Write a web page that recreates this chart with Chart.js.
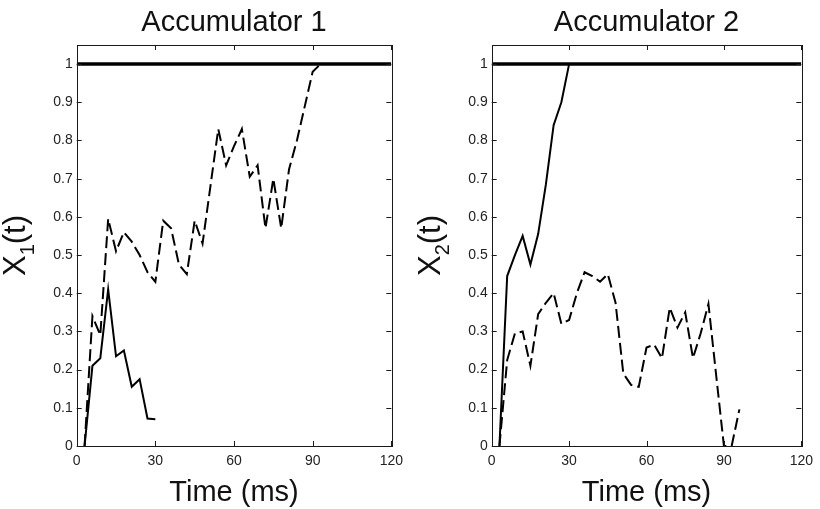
<!DOCTYPE html>
<html>
<head>
<meta charset="utf-8">
<script src="https://cdn.jsdelivr.net/npm/chart.js@4/dist/chart.umd.min.js"></script>
<style>
  html, body { margin: 0; padding: 0; background: #fff; }
  #wrap { position: relative; width: 820px; height: 509px; overflow: hidden; }
  .panel { position: absolute; top: 0; width: 410px; height: 509px; }
  canvas { display: block; }
</style>
</head>
<body>
<div id="wrap">
  <div class="panel" style="left:0"><canvas id="acc1" width="410" height="509"></canvas></div>
  <div class="panel" style="left:410px"><canvas id="acc2" width="410" height="509"></canvas></div>
</div>
<script>
// Sample times (ms)
const timeSolid = [3, 6, 9, 12, 15, 18, 21, 24, 27, 30];
const timeDashed1 = [3, 6, 9, 12, 15, 18, 21, 24, 27, 30, 33, 36, 39, 42, 45, 48,
                     51, 54, 57, 60, 63, 66, 69, 72, 75, 78, 81, 84, 87, 90, 93];
const timeDashed2 = [3, 6, 9, 12, 15, 18, 21, 24, 27, 30, 33, 36, 39, 42, 45, 48,
                     51, 54, 57, 60, 63, 66, 69, 72, 75, 78, 81, 84, 87, 90, 93, 96];

// Accumulator 1 trajectories
const acc1Solid = [0, 0.21, 0.23, 0.41, 0.235, 0.25, 0.155, 0.175, 0.072, 0.07];
const acc1Dashed = [0, 0.34, 0.29, 0.595, 0.51, 0.56, 0.535, 0.50, 0.455, 0.43,
                    0.59, 0.57, 0.475, 0.45, 0.59, 0.53, 0.68, 0.83, 0.735, 0.785,
                    0.83, 0.705, 0.735, 0.57, 0.70, 0.57, 0.725, 0.80, 0.89, 0.98, 1.0];

// Accumulator 2 trajectories
const acc2Solid = [0, 0.445, 0.50, 0.55, 0.475, 0.555, 0.685, 0.84, 0.90, 1.0];
const acc2Dashed = [0, 0.225, 0.295, 0.30, 0.21, 0.345, 0.375, 0.40, 0.32, 0.33,
                    0.40, 0.455, 0.445, 0.43, 0.45, 0.375, 0.19, 0.16, 0.155, 0.258,
                    0.265, 0.23, 0.362, 0.31, 0.35, 0.23, 0.295, 0.372, 0.185, 0, 0, 0.096];

// Decision threshold
const threshold = 1;

// Axis ticks
const xTicks = [0, 30, 60, 90, 120];
const yTicks = [0, 0.1, 0.2, 0.3, 0.4, 0.5, 0.6, 0.7, 0.8, 0.9, 1];

const titles = ['Accumulator 1', 'Accumulator 2'];
const yLabelSubs = ['1', '2'];
const xLabel = 'Time (ms)';

const FONT = '"Liberation Sans", Arial, Helvetica, sans-serif';
const INK = '#1a1a1a';

function pts(xs, ys) { return ys.map((y, i) => ({ x: xs[i], y })); }

// Frame, inward tick marks, title and axis labels
const framePlugin = {
  id: 'frame',
  afterDraw(chart, args, opts) {
    const { ctx, chartArea: a, scales } = chart;
    ctx.save();
    ctx.strokeStyle = INK;
    ctx.lineWidth = 1;
    ctx.strokeRect(Math.round(a.left) + 0.5, Math.round(a.top) + 0.5,
                   Math.round(a.right - a.left), Math.round(a.bottom - a.top));
    const tl = 5;
    ctx.beginPath();
    scales.x.ticks.forEach(t => {
      const px = Math.round(scales.x.getPixelForValue(t.value)) + 0.5;
      ctx.moveTo(px, a.bottom); ctx.lineTo(px, a.bottom - tl);
      ctx.moveTo(px, a.top); ctx.lineTo(px, a.top + tl);
    });
    scales.y.ticks.forEach(t => {
      const py = Math.round(scales.y.getPixelForValue(t.value)) + 0.5;
      ctx.moveTo(a.left, py); ctx.lineTo(a.left + tl, py);
      ctx.moveTo(a.right, py); ctx.lineTo(a.right - tl, py);
    });
    ctx.stroke();

    const cx = (a.left + a.right) / 2;
    const cy = (a.top + a.bottom) / 2;
    ctx.fillStyle = '#111';

    // title
    ctx.font = '29px ' + FONT;
    ctx.textAlign = 'center';
    ctx.textBaseline = 'alphabetic';
    ctx.fillText(opts.title, cx, 31);

    // x label
    ctx.font = '29px ' + FONT;
    ctx.fillText(xLabel, cx, 501);

    // y label: X_n(t), rotated
    ctx.translate(a.left - 52, cy);
    ctx.rotate(-Math.PI / 2);
    ctx.textAlign = 'left';
    const big = '31px ' + FONT, small = '20px ' + FONT;
    ctx.font = big; const wX = ctx.measureText('X').width;
    const wT = ctx.measureText('(t)').width;
    ctx.font = small; const wS = ctx.measureText(opts.sub).width;
    let x0 = -(wX + wS + wT) / 2;
    ctx.font = big; ctx.fillText('X', x0, 0);
    ctx.font = small; ctx.fillText(opts.sub, x0 + wX, 9);
    ctx.font = big; ctx.fillText('(t)', x0 + wX + wS, 0);
    ctx.restore();
  }
};

function makeChart(id, solid, dashed, dashedTime, idx, padding) {
  return new Chart(document.getElementById(id), {
    type: 'line',
    data: {
      datasets: [
        { data: pts([xTicks[0], xTicks[xTicks.length - 1]], [threshold, threshold]),
          borderColor: '#000', borderWidth: 3.5 },
        { data: pts(timeSolid, solid), borderColor: '#000', borderWidth: 2 },
        { data: pts(dashedTime, dashed), borderColor: '#000', borderWidth: 2,
          borderDash: [12, 5] }
      ]
    },
    options: {
      responsive: false,
      animation: false,
      devicePixelRatio: 1,
      elements: { point: { radius: 0 }, line: { tension: 0, fill: false, borderCapStyle: 'butt' } },
      layout: { padding },
      plugins: {
        legend: { display: false },
        tooltip: { enabled: false },
        title: { display: false },
        frame: { title: titles[idx], sub: yLabelSubs[idx] }
      },
      scales: {
        x: {
          type: 'linear', min: 0, max: 120,
          afterBuildTicks: s => { s.ticks = xTicks.map(v => ({ value: v })); },
          afterFit: s => { s.height = 63; },
          grid: { display: false, drawTicks: false },
          border: { display: false },
          ticks: { font: { size: 14, family: FONT }, color: '#222', padding: 7,
                   maxRotation: 0, autoSkip: false, callback: v => String(v) }
        },
        y: {
          type: 'linear', min: 0, max: 1.05,
          afterBuildTicks: s => { s.ticks = yTicks.map(v => ({ value: v })); },
          afterFit: s => { s.width = 60; },
          grid: { display: false, drawTicks: false },
          border: { display: false },
          ticks: { font: { size: 14, family: FONT }, color: '#222', padding: 4,
                   autoSkip: false, callback: v => String(v) }
        }
      }
    },
    plugins: [framePlugin]
  });
}

makeChart('acc1', acc1Solid, acc1Dashed, timeDashed1, 0,
          { left: 16.7, right: 18, top: 45, bottom: 0 });
makeChart('acc2', acc2Solid, acc2Dashed, timeDashed2, 1,
          { left: 21.7, right: 14.3, top: 45, bottom: 0 });
</script>
</body>
</html>
